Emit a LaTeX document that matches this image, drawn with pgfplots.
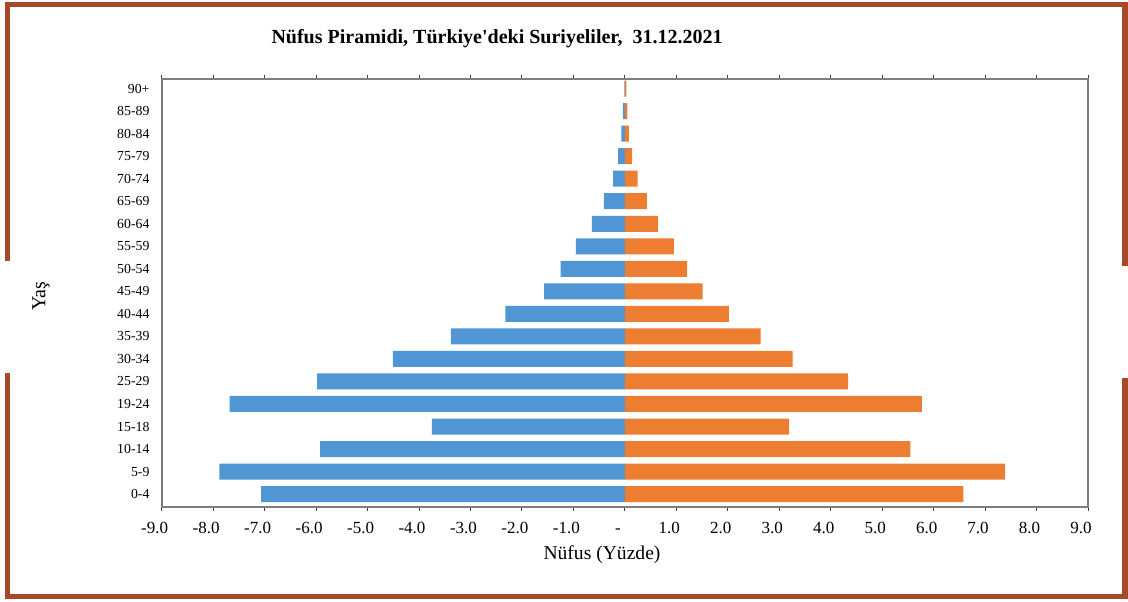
\documentclass[border=0pt]{standalone}
\usepackage{pgfplots}
\pgfplotsset{compat=1.18}
\usepackage{pgfplotstable}
\usepackage{fontspec}
\setmainfont{Liberation Serif}
\definecolor{frame}{RGB}{168,72,42}
\definecolor{mblue}{RGB}{80,150,212}
\definecolor{forange}{RGB}{237,125,49}
\definecolor{axgray}{RGB}{125,125,125}
\pgfplotstableread{
y M F
0 -7.07 6.58
1 -7.88 7.39
2 -5.92 5.55
3 -3.75 3.19
4 -7.68 5.77
5 -5.98 4.34
6 -4.51 3.26
7 -3.38 2.64
8 -2.32 2.02
9 -1.57 1.51
10 -1.25 1.21
11 -0.95 0.95
12 -0.64 0.64
13 -0.41 0.43
14 -0.23 0.25
15 -0.13 0.14
16 -0.07 0.08
17 -0.04 0.05
18 -0.01 0.03
}\pyramid
\begin{document}
\begin{tikzpicture}[x=0.5pt,y=0.5pt]
\useasboundingbox (0,0) rectangle (1128,601);
% frame
\fill[frame] (5,594.3) rectangle (1127.7,599.3);
\fill[frame] (5,1.7) rectangle (1127.7,6.7);
\fill[frame] (5,340.3) rectangle (10,599.3);
\fill[frame] (5,1.7) rectangle (10,228);
\fill[frame] (1122.3,335) rectangle (1127.7,599.3);
\fill[frame] (1122.3,1.7) rectangle (1127.7,223);
\coordinate (A) at (161.7,94.3);
\begin{axis}[
  at={(A)}, anchor=south west,
  scale only axis, width=463.15pt, height=214pt,
  xmin=-9, xmax=9, ymin=-0.56, ymax=18.44,
  xtick={-9,-8,...,9},
  xticklabels={-9.0,-8.0,-7.0,-6.0,-5.0,-4.0,-3.0,-2.0,-1.0,{-},1.0,2.0,3.0,4.0,5.0,6.0,7.0,8.0,9.0},
  ytick={0,...,18},
  yticklabels={0-4,5-9,10-14,15-18,19-24,25-29,30-34,35-39,40-44,45-49,50-54,55-59,60-64,65-69,70-74,75-79,80-84,85-89,90+},
  tick align=outside,
  xtick style={draw=black!75, line width=0.5pt},
  major tick length=2pt,
  ytick style={draw=none},
  axis line style={draw=axgray, line width=0.8pt},
  xticklabel style={font=\fontsize{8.5pt}{9pt}\selectfont, xshift=-3.5pt, yshift=-0.5pt, text height=1.6ex, text depth=0.2ex},
  yticklabel style={font=\fontsize{6.9pt}{7pt}\selectfont, xshift=-0.6pt},
  xbar, bar shift=0pt, bar width=8pt,
]
\addplot[draw=none, fill=mblue] table[x=M, y=y] {\pyramid};
\addplot[draw=none, fill=forange] table[x=F, y=y] {\pyramid};
\end{axis}
\node[font=\bfseries\fontsize{10pt}{12pt}\selectfont] at (497,562) {Nüfus Piramidi, Türkiye\textquotesingle deki Suriyeliler, \ 31.12.2021};
\node[font=\fontsize{9.8pt}{12pt}\selectfont] at (602,46) {Nüfus (Yüzde)};
\node[font=\fontsize{10pt}{12pt}\selectfont, rotate=90] at (41,305) {Yaş};
\end{tikzpicture}
\end{document}
